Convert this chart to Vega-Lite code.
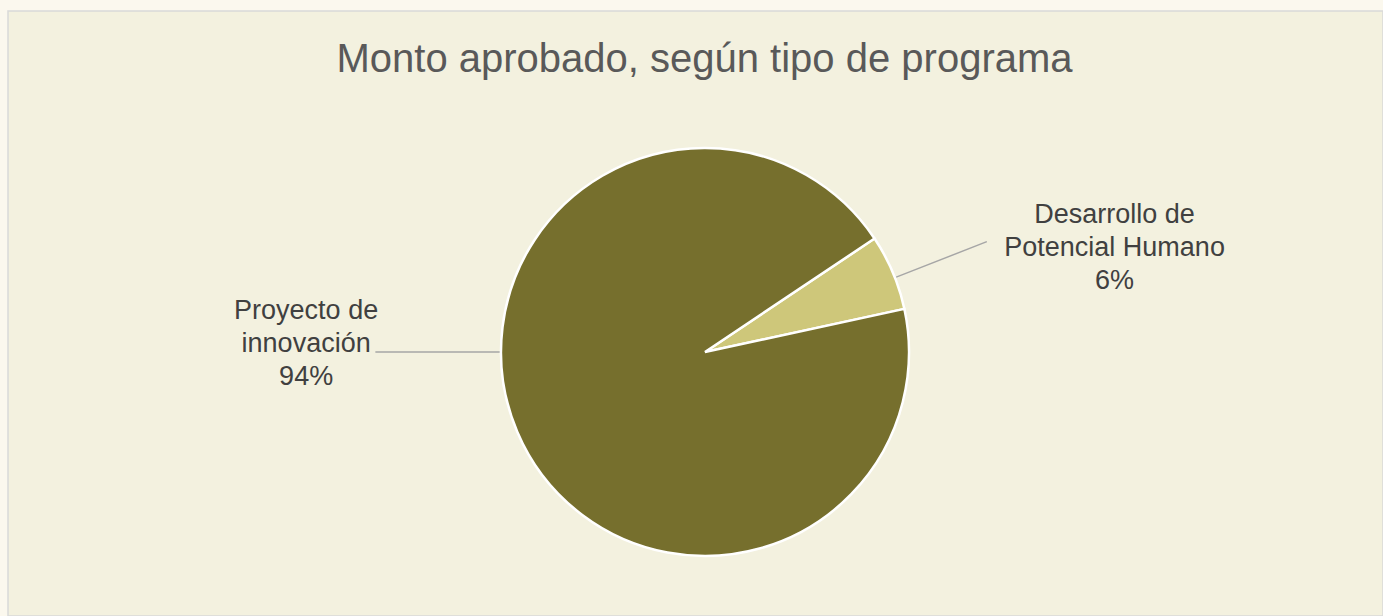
{
  "$schema": "https://vega.github.io/schema/vega-lite/v6.json",
  "width": 1375,
  "height": 605,
  "autosize": "none",
  "padding": {"left": 8, "top": 11, "right": 0, "bottom": 0},
  "background": "#FBF8EE",
  "view": {"fill": "#F3F1DF", "stroke": "#D9D9D9", "strokeWidth": 1.5},
  "title": {
    "text": "Monto aprobado, según tipo de programa",
    "fontSize": 40,
    "font": "Liberation Sans",
    "fontWeight": "normal",
    "color": "#595959",
    "anchor": "middle",
    "frame": "group",
    "baseline": "alphabetic",
    "offset": -61,
    "dx": 9,
    "dy": 40
  },
  "data": {
    "values": [
      {"programa": "Desarrollo de Potencial Humano", "porcentaje": 6, "etiqueta": ["Desarrollo de", "Potencial Humano", "6%"]},
      {"programa": "Proyecto de innovación", "porcentaje": 94, "etiqueta": ["Proyecto de", "innovación", "94%"]}
    ]
  },
  "transform": [
    {"stack": "porcentaje", "groupby": [], "as": ["v0", "v1"], "sort": [{"field": "porcentaje", "order": "ascending"}]}
  ],
  "layer": [
    {
      "mark": {"type": "arc", "outerRadius": 204, "stroke": "#FFFFFF", "strokeWidth": 2.5, "xOffset": 9.5, "yOffset": 38.5},
      "encoding": {
        "theta": {"field": "v0", "type": "quantitative", "scale": {"domain": [0, 100], "range": [0.9809, 7.2641]}},
        "theta2": {"field": "v1"},
        "color": {
          "field": "programa",
          "type": "nominal",
          "scale": {"domain": ["Desarrollo de Potencial Humano", "Proyecto de innovación"], "range": ["#CEC77A", "#766F2D"]},
          "legend": null
        }
      }
    },
    {
      "transform": [{"filter": "datum.programa === 'Desarrollo de Potencial Humano'"}],
      "mark": {"type": "arc", "radius": 302, "radius2": 206, "thetaOffset": 0.2164, "theta2Offset": -0.1600, "filled": false, "stroke": "#A6A6A6", "strokeWidth": 1.3, "xOffset": 9.5, "yOffset": 38.5},
      "encoding": {
        "theta": {"field": "v0", "type": "quantitative"},
        "theta2": {"field": "v1"}
      }
    },
    {
      "transform": [{"filter": "datum.programa === 'Proyecto de innovación'"}],
      "mark": {"type": "arc", "radius": 329, "radius2": 206, "thetaOffset": 3.3545, "theta2Offset": -2.5512, "filled": false, "stroke": "#A6A6A6", "strokeWidth": 1.3, "xOffset": 9.5, "yOffset": 38.5},
      "encoding": {
        "theta": {"field": "v0", "type": "quantitative"},
        "theta2": {"field": "v1"}
      }
    },
    {
      "transform": [{"filter": "datum.programa === 'Desarrollo de Potencial Humano'"}],
      "mark": {"type": "text", "radius": 432, "thetaOffset": 0.2663, "xOffset": 9.5, "yOffset": 38.5, "font": "Liberation Sans", "fontSize": 27, "lineHeight": 33, "color": "#404040", "align": "center", "baseline": "middle"},
      "encoding": {
        "theta": {"field": "v0", "type": "quantitative"},
        "text": {"field": "etiqueta"}
      }
    },
    {
      "transform": [{"filter": "datum.programa === 'Proyecto de innovación'"}],
      "mark": {"type": "text", "radius": 401, "thetaOffset": 3.4575, "xOffset": 9.5, "yOffset": 38.5, "font": "Liberation Sans", "fontSize": 27, "lineHeight": 33, "color": "#404040", "align": "center", "baseline": "middle"},
      "encoding": {
        "theta": {"field": "v0", "type": "quantitative"},
        "text": {"field": "etiqueta"}
      }
    }
  ]
}
